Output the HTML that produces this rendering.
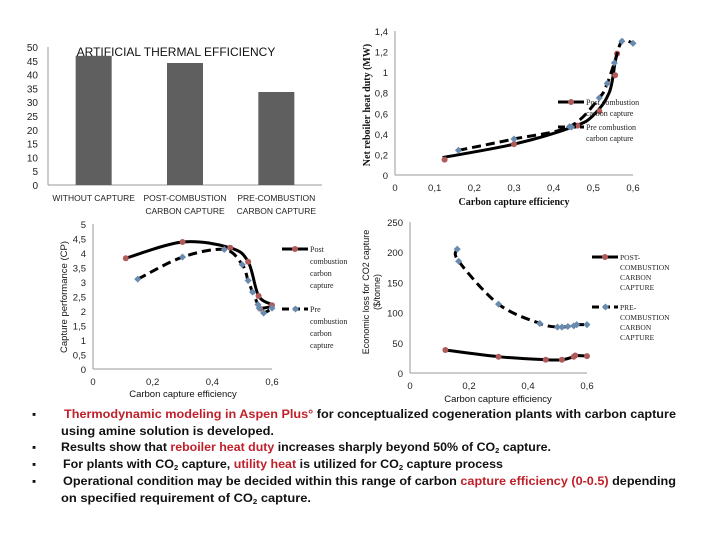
<!DOCTYPE html>
<html><head><meta charset="utf-8"><style>
body{margin:0;background:#fff;}
svg{display:block;font-family:"Liberation Sans",sans-serif;}
</style></head><body>
<svg id="s" width="720" height="540" viewBox="0 0 720 540">
<g id="g1"></g>
<g id="g2"></g>
<g id="g3"></g>
<g id="g4"></g>
<g font-weight="bold" font-size="11.5" fill="#111">
<text x="32" y="418">▪</text>
<text x="64" y="418" textLength="612" lengthAdjust="spacingAndGlyphs"><tspan fill="#c0202a">Thermodynamic modeling in Aspen Plus°</tspan> for conceptualized cogeneration plants with carbon capture</text>
<text x="61" y="435" textLength="213" lengthAdjust="spacingAndGlyphs">using amine solution is developed.</text>
<text x="32" y="451">▪</text>
<text x="61" y="451" textLength="490" lengthAdjust="spacingAndGlyphs">Results show that <tspan fill="#c0202a">reboiler heat duty</tspan> increases sharply beyond 50% of CO<tspan font-size="7" dy="2">2</tspan><tspan dy="-2"> capture.</tspan></text>
<text x="32" y="468">▪</text>
<text x="63" y="468" textLength="440" lengthAdjust="spacingAndGlyphs">For plants with CO<tspan font-size="7" dy="2">2</tspan><tspan dy="-2"> capture, </tspan><tspan fill="#c0202a">utility heat</tspan> is utilized for CO<tspan font-size="7" dy="2">2</tspan><tspan dy="-2"> capture process</tspan></text>
<text x="32" y="485">▪</text>
<text x="63" y="485" textLength="613" lengthAdjust="spacingAndGlyphs">Operational condition may be decided within this range of carbon <tspan fill="#c0202a">capture efficiency (0-0.5)</tspan> depending</text>
<text x="61" y="502" textLength="250" lengthAdjust="spacingAndGlyphs">on specified requirement of CO<tspan font-size="7" dy="2">2</tspan><tspan dy="-2"> capture.</tspan></text>
</g>
</svg>
<script>
// ---- Bar chart data
const barCategories = [["WITHOUT CAPTURE"],["POST-COMBUSTION","CARBON CAPTURE"],["PRE-COMBUSTION","CARBON CAPTURE"]];
const barValues = [46.8, 44.2, 33.7];
const barTicks = [0,5,10,15,20,25,30,35,40,45,50];
// ---- Reboiler heat duty
const rhdPostX = [0.12,0.3,0.45,0.5,0.54,0.555,0.56];
const rhdPostY = [0.17,0.3,0.47,0.58,0.8,1.1,1.18];
const rhdPostMX = [0.125,0.3,0.46,0.515,0.555,0.56];
const rhdPostMY = [0.15,0.3,0.48,0.62,0.97,1.18];
const rhdPreX = [0.16,0.3,0.44,0.515,0.535,0.553,0.572,0.6];
const rhdPreY = [0.24,0.35,0.47,0.75,0.89,1.09,1.3,1.28];
const rhdYTicks = ["0","0,2","0,4","0,6","0,8","1","1,2","1,4"];
const rhdXTicks = ["0","0,1","0,2","0,3","0,4","0,5","0,6"];
// ---- Capture performance
const cpPostX = [0.11,0.3,0.46,0.52,0.555,0.6,0.56];
const cpPostY = [3.82,4.38,4.18,3.7,2.52,2.2,2.08];
const cpPreX = [0.15,0.3,0.44,0.5,0.52,0.535,0.553,0.557,0.572,0.6];
const cpPreY = [3.1,3.86,4.12,3.6,3.05,2.65,2.22,2.1,1.93,2.1];
const cpYTicks = ["0","0,5","1","1,5","2","2,5","3","3,5","4","4,5","5"];
const cpXTicks = ["0","0,2","0,4","0,6"];
// ---- Economic loss
const elPostX = [0.12,0.3,0.46,0.515,0.555,0.56,0.6];
const elPostY = [38,27,22,22,27,29,28];
const elPreX = [0.16,0.165,0.3,0.44,0.5,0.515,0.535,0.555,0.565,0.6];
const elPreY = [205,185,114,82,76,76,77,78,80,80];
const elYTicks = ["0","50","100","150","200","250"];
const elXTicks = ["0","0,2","0,4","0,6"];

const NS="http://www.w3.org/2000/svg";
function mk(p,tag,attrs,txt){const e=document.createElementNS(NS,tag);for(const k in attrs)e.setAttribute(k,attrs[k]);if(txt!==undefined)e.textContent=txt;p.appendChild(e);return e;}
function smooth(pts){let d="M"+pts[0][0]+","+pts[0][1];for(let i=0;i<pts.length-1;i++){const p0=pts[i-1]||pts[i],p1=pts[i],p2=pts[i+1],p3=pts[i+2]||p2;const c1=[p1[0]+(p2[0]-p0[0])/6,p1[1]+(p2[1]-p0[1])/6],c2=[p2[0]-(p3[0]-p1[0])/6,p2[1]-(p3[1]-p1[1])/6];d+=" C"+c1+" "+c2+" "+p2;}return d;}

// ===== Bar chart
(function(){
const g=document.getElementById('g1');
const x0=48,x1=322,y0=185,y1=47,max=50;
const ys=v=>y0-(v/max)*(y0-y1);
const band=(x1-x0)/barCategories.length;
barTicks.forEach(t=>{const e=mk(g,'text',{x:38,y:ys(t)+4,'text-anchor':'end','font-size':10,fill:'#222'},t);

});
let a=mk(g,'line',{x1:x0,y1:y1,x2:x0,y2:y0,stroke:'#999'});


a=mk(g,'line',{x1:x0,y1:y0,x2:x1,y2:y0,stroke:'#999'});


barValues.forEach((v,i)=>{const cx=x0+band*(i+0.5);
const r=mk(g,'rect',{x:cx-18,y:ys(v),width:36,height:y0-ys(v),fill:'#5f5f5f'});


barCategories[i].forEach((l,j)=>{const t=mk(g,'text',{x:cx,y:201+j*13,'text-anchor':'middle','font-size':8.5,fill:'#222'},l);

});});
const tt=mk(g,'text',{x:176,y:56,'text-anchor':'middle','font-size':12,fill:'#111'},'ARTIFICIAL  THERMAL EFFICIENCY');


})();

function lineChart(g,o){
const xs=v=>o.x0+(v/o.xmax)*(o.x1-o.x0), ys=v=>o.y0-(v/o.ymax)*(o.y0-o.y1);
let a=mk(g,'line',{x1:o.x0,y1:o.y1,x2:o.x0,y2:o.y0,stroke:'#999'});


a=mk(g,'line',{x1:o.x0,y1:o.y0,x2:o.x1,y2:o.y0,stroke:'#999'});


o.yt.forEach((t,i)=>{const v=i*o.ymax/(o.yt.length-1);const e=mk(g,'text',{x:o.x0-7,y:ys(v)+4,'text-anchor':'end','font-size':9.5,fill:'#222'},t);

});
o.xt.forEach((t,i)=>{const v=i*o.xmax/(o.xt.length-1);const e=mk(g,'text',{x:xs(v),y:o.y0+16,'text-anchor':'middle','font-size':9.5,fill:'#222'},t);

});
o.series.forEach(s=>{
const p=mk(g,'path',{d:smooth(s.x.map((v,i)=>[xs(v),ys(s.y[i])])),fill:'none',stroke:'#000','stroke-width':3,'stroke-dasharray':s.dash||'none'});


const mx=s.mx||s.x,my=s.my||s.y;
mx.forEach((v,i)=>{const cx=xs(v),cy=ys(my[i]);let m;
if(s.pre)m=mk(g,'rect',{x:cx-2.5,y:cy-2.5,width:5,height:5,fill:'#6a8bb0',transform:`rotate(45 ${cx} ${cy})`});
else m=mk(g,'circle',{cx:cx,cy:cy,r:3,fill:'#b05a5a'});

});
});
return {xs,ys};
}
function legend(g,x,y,lines,pre,dash,font,name){
const l=mk(g,'line',{x1:x,y1:y,x2:x+26,y2:y,stroke:'#000','stroke-width':3,'stroke-dasharray':dash||'none'});


let m=pre?mk(g,'rect',{x:x+11,y:y-2.5,width:5,height:5,fill:'#6a8bb0',transform:`rotate(45 ${x+13.5} ${y})`}):mk(g,'circle',{cx:x+13,cy:y,r:3,fill:'#b05a5a'});


lines.forEach((t,i)=>{const e=mk(g,'text',{x:x+28,y:y+3+i*font.lh,'font-size':font.size,'font-family':font.fam,fill:'#222'},t);

});
}
function rotText(g,x,y,t,size,fam,name){const e=mk(g,'text',{x:0,y:0,transform:`translate(${x} ${y}) rotate(-90)`,'text-anchor':'middle','font-size':size,'font-family':fam,fill:'#111'},t);

return e;}
function txt(g,x,y,t,size,fam,name,w){const e=mk(g,'text',{x:x,y:y,'text-anchor':'middle','font-size':size,'font-family':fam,fill:'#111'},t);if(w)e.setAttribute('font-weight',w);

}
const serif='"Liberation Serif",serif';

// ===== Reboiler chart
(function(){const g=document.getElementById('g2');
lineChart(g,{x0:395,x1:633,y0:175,y1:31,xmax:0.6,ymax:1.4,yt:rhdYTicks,xt:rhdXTicks,series:[
{name:'post-combustion',x:rhdPostX,y:rhdPostY,mx:rhdPostMX,my:rhdPostMY},
{name:'pre-combustion',x:rhdPreX,y:rhdPreY,pre:true,dash:'9 5'}]});
rotText(g,370,105,'Net reboiler heat duty (MW)',10,serif,'y-axis-title').setAttribute('font-weight','bold');
txt(g,514,205,'Carbon capture efficiency',10,serif,'x-axis-title','bold');
legend(g,558,102,['Post combustion','carbon capture'],false,null,{size:8,lh:11,fam:serif},'post-combustion');
legend(g,558,127,['Pre combustion','carbon capture'],true,'7 4',{size:8,lh:11,fam:serif},'pre-combustion');
})();
// ===== Capture performance
(function(){const g=document.getElementById('g3');
lineChart(g,{x0:93,x1:272,y0:369,y1:224,xmax:0.6,ymax:5,yt:cpYTicks,xt:cpXTicks,series:[
{name:'post-combustion',x:cpPostX,y:cpPostY},
{name:'pre-combustion',x:cpPreX,y:cpPreY,pre:true,dash:'9 5'}]});
rotText(g,67,297,'Capture performance (CP)',9.5,'"Liberation Sans",sans-serif','y-axis-title');
txt(g,183,397,'Carbon capture efficiency',9.5,'"Liberation Sans",sans-serif','x-axis-title');
legend(g,282,249,['Post','combustion','carbon','capture'],false,null,{size:8,lh:12,fam:serif},'post-combustion');
legend(g,282,309,['Pre','combustion','carbon','capture'],true,'7 4',{size:8,lh:12,fam:serif},'pre-combustion');
})();
// ===== Economic loss
(function(){const g=document.getElementById('g4');
lineChart(g,{x0:410,x1:587,y0:373,y1:222,xmax:0.6,ymax:250,yt:elYTicks,xt:elXTicks,series:[
{name:'post-combustion',x:elPostX,y:elPostY},
{name:'pre-combustion',x:elPreX,y:elPreY,pre:true,dash:'9 5'}]});
rotText(g,369,292,'Economic loss for  CO2 capture',9,'"Liberation Sans",sans-serif','y-axis-title');
rotText(g,380,292,'($/tonne)',9,'"Liberation Sans",sans-serif','y-axis-title-units');
txt(g,498,402,'Carbon capture efficiency',9.5,'"Liberation Sans",sans-serif','x-axis-title');
legend(g,592,257,['POST-','COMBUSTION','CARBON','CAPTURE'],false,null,{size:7.5,lh:10,fam:serif},'post-combustion');
legend(g,592,307,['PRE-','COMBUSTION','CARBON','CAPTURE'],true,'7 4',{size:7.5,lh:10,fam:serif},'pre-combustion');
})();
</script>
</body></html>
